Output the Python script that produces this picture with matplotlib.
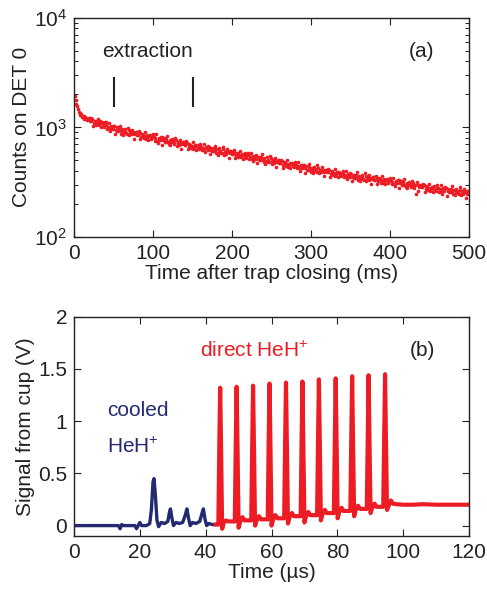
import matplotlib
matplotlib.use('Agg')
from matplotlib import pyplot as plt
from matplotlib.ticker import LogLocator, NullFormatter

plt.rcParams['font.family'] = ['Liberation Sans', 'DejaVu Sans']
plt.rcParams['mathtext.fontset'] = 'custom'
plt.rcParams['mathtext.rm'] = 'Liberation Sans'
plt.rcParams['mathtext.it'] = 'Liberation Sans:italic'

RED = '#ed1c24'
BLUE = '#232a72'
INK = '#222222'

# panel (a): counts vs time after trap closing (ms)
time_odd = list(range(1, 500, 2))
counts_odd = [
    1950, 1640, 1460, 1310, 1330, 1260, 1200, 1230, 1180, 1210,
    1134, 1186, 1096, 1142, 1110, 1050, 1133, 1106, 1068, 1118,
    1046, 1015, 965, 1025, 965, 1024, 955, 926, 983, 921,
    958, 905, 925, 873, 947, 895, 861, 899, 866, 903,
    853, 889, 824, 859, 836, 789, 849, 826, 796, 830,
    814, 793, 756, 806, 762, 812, 760, 740, 788, 738,
    770, 728, 745, 704, 764, 723, 696, 727, 701, 731,
    691, 721, 667, 697, 678, 640, 690, 673, 649, 678,
    666, 649, 619, 660, 624, 665, 623, 606, 646, 605,
    631, 598, 612, 579, 629, 596, 574, 601, 579, 605,
    572, 598, 554, 579, 564, 533, 574, 560, 539, 563,
    554, 540, 516, 549, 519, 553, 518, 504, 538, 503,
    525, 497, 508, 480, 522, 493, 475, 497, 479, 500,
    472, 493, 457, 477, 465, 438, 472, 460, 443, 462,
    455, 443, 422, 450, 425, 453, 424, 412, 439, 411,
    430, 406, 416, 393, 427, 404, 390, 407, 393, 410,
    388, 406, 375, 393, 383, 362, 390, 380, 367, 383,
    377, 368, 350, 374, 354, 377, 354, 345, 368, 345,
    362, 343, 351, 332, 362, 343, 332, 347, 336, 350,
    333, 347, 323, 338, 330, 312, 337, 328, 318, 333,
    327, 319, 305, 325, 308, 328, 308, 300, 319, 299,
    313, 296, 303, 286, 312, 295, 245, 298, 287, 301,
    284, 296, 275, 288, 281, 265, 286, 280, 270, 282,
    278, 272, 260, 278, 263, 280, 263, 257, 275, 257,
    269, 255, 262, 247, 269, 255, 246, 258, 249, 261,
]
time_even = list(range(2, 501, 2))
counts_even = [
    1780, 1560, 1380, 1360, 1240, 1260, 1250, 1170, 1200, 1140,
    1220, 1028, 1154, 1055, 1194, 1063, 1000, 1118, 1013, 1123,
    969, 1101, 920, 1000, 1039, 873, 998, 922, 1036, 879,
    853, 975, 886, 997, 845, 910, 956, 790, 906, 856,
    919, 775, 871, 797, 908, 810, 764, 856, 777, 864,
    755, 861, 722, 788, 822, 693, 796, 737, 831, 705,
    685, 784, 713, 803, 682, 734, 772, 639, 733, 693,
    745, 629, 707, 647, 737, 659, 621, 697, 634, 707,
    618, 705, 592, 645, 673, 568, 652, 604, 681, 578,
    563, 644, 587, 661, 562, 606, 638, 528, 607, 574,
    616, 521, 586, 538, 613, 548, 516, 580, 526, 589,
    514, 586, 492, 536, 560, 473, 542, 502, 567, 480,
    467, 535, 486, 548, 465, 502, 527, 437, 501, 474,
    509, 430, 483, 443, 505, 451, 424, 476, 432, 483,
    422, 481, 403, 439, 458, 386, 443, 410, 462, 393,
    383, 438, 398, 449, 381, 411, 432, 358, 411, 389,
    418, 353, 398, 365, 416, 372, 351, 394, 358, 401,
    351, 399, 335, 366, 382, 322, 371, 344, 388, 330,
    322, 370, 337, 380, 323, 349, 368, 305, 352, 333,
    358, 303, 342, 314, 359, 320, 303, 340, 310, 348,
    304, 347, 291, 318, 332, 280, 321, 298, 336, 285,
    278, 319, 290, 327, 278, 300, 315, 262, 301, 285,
    306, 258, 291, 267, 305, 273, 258, 290, 264, 295,
    258, 295, 248, 272, 283, 239, 276, 256, 289, 246,
    240, 275, 250, 283, 241, 260, 274, 228, 261, 248,
]
extraction_ms = [50, 150]
extraction_lo = 1540
extraction_hi = 2890

# panel (b): signal from cup (V) vs time (us)
cooled_t = [0, 5, 10, 13.5, 14, 14.5, 15, 18.5, 19, 19.5, 20, 20.5, 22, 23,
            23.5, 24, 24.3, 24.7, 25.2, 25.7, 26.5, 27.5, 28.5, 29, 29.3, 29.7,
            30.2, 31, 32, 33, 33.8, 34.3, 34.8, 35.3, 36, 37, 38.2, 38.9, 39.3,
            39.8, 40.3, 41, 42, 43]
cooled_v = [0.0, 0.0, 0.0, 0.0, -0.03, 0.01, 0.0, 0.0, -0.03, 0.0, 0.03, 0.0,
            0.0, 0.02, 0.15, 0.42, 0.45, 0.3, 0.05, -0.01, 0.03, 0.02, 0.04,
            0.13, 0.16, 0.08, 0.0, 0.03, 0.02, 0.03, 0.1, 0.16, 0.07, 0.0, 0.03,
            0.02, 0.04, 0.12, 0.16, 0.06, 0.0, 0.02, 0.01, 0.01]

direct_t = [43.0, 43.5,
            43.85, 44.15, 44.4, 44.65, 45.0, 45.5, 46.2, 46.8, 47.9,
            48.85, 49.15, 49.4, 49.65, 50.0, 50.5, 51.2, 51.8, 52.9,
            53.85, 54.15, 54.4, 54.65, 55.0, 55.5, 56.2, 56.8, 57.9,
            58.85, 59.15, 59.4, 59.65, 60.0, 60.5, 61.2, 61.8, 62.9,
            63.85, 64.15, 64.4, 64.65, 65.0, 65.5, 66.2, 66.8, 67.9,
            68.85, 69.15, 69.4, 69.65, 70.0, 70.5, 71.2, 71.8, 72.9,
            73.85, 74.15, 74.4, 74.65, 75.0, 75.5, 76.2, 76.8, 77.9,
            78.95, 79.25, 79.5, 79.75, 80.1, 80.6, 81.3, 81.9, 83.0,
            83.95, 84.25, 84.5, 84.75, 85.1, 85.6, 86.3, 86.9, 88.0,
            88.95, 89.25, 89.5, 89.75, 90.1, 90.6, 91.3, 91.9, 93.0,
            93.95, 94.25, 94.5, 94.75, 95.1, 95.6, 96.3, 96.9, 98.0,
            100, 103, 106, 110, 114, 117, 120]
direct_v = [0.01, 0.01,
            0.01, 0.79, 1.32, 0.79, -0.03, 0.03, 0.05, 0.04, 0.04,
            0.04, 0.80, 1.33, 0.80, -0.02, 0.04, 0.08, 0.05, 0.05,
            0.05, 0.80, 1.34, 0.80, 0.0, 0.05, 0.09, 0.06, 0.06,
            0.06, 0.82, 1.36, 0.82, 0.0, 0.06, 0.10, 0.07, 0.07,
            0.07, 0.82, 1.37, 0.82, 0.02, 0.08, 0.12, 0.09, 0.09,
            0.09, 0.83, 1.38, 0.83, 0.03, 0.09, 0.13, 0.10, 0.10,
            0.10, 0.84, 1.40, 0.84, 0.05, 0.11, 0.15, 0.12, 0.12,
            0.12, 0.85, 1.41, 0.85, 0.07, 0.13, 0.17, 0.14, 0.14,
            0.14, 0.86, 1.43, 0.86, 0.09, 0.15, 0.19, 0.16, 0.16,
            0.16, 0.86, 1.44, 0.86, 0.12, 0.17, 0.21, 0.18, 0.18,
            0.18, 0.87, 1.45, 0.87, 0.15, 0.19, 0.24, 0.21, 0.205,
            0.2, 0.2, 0.205, 0.2, 0.2, 0.2, 0.2]

FS = 15

fig = plt.figure(figsize=(4.87, 5.91), dpi=100)
ax1 = fig.add_axes([0.152, 0.599, 0.811, 0.371])
ax2 = fig.add_axes([0.152, 0.093, 0.811, 0.371])

for ax in (ax1, ax2):
    ax.tick_params(direction='in', top=True, right=True, labelsize=FS,
                   length=5, width=0.8, colors=INK, pad=5)
    ax.tick_params(which='minor', direction='in', top=True, right=True,
                   length=3, width=0.6)
    for s in ax.spines.values():
        s.set_linewidth(1.0)
        s.set_color(INK)

# (a)
ax1.plot(time_odd, counts_odd, 'o', color=RED, ms=2.6, mew=0)
ax1.plot(time_even, counts_even, 'o', color=RED, ms=2.6, mew=0)
ax1.vlines(extraction_ms, extraction_lo, extraction_hi, color=INK, lw=1.5)
ax1.text(93, 4900, 'extraction', ha='center', va='center', fontsize=FS, color=INK)
ax1.text(440, 4900, '(a)', ha='center', va='center', fontsize=FS, color=INK)
ax1.set_yscale('log')
ax1.set_xlim(0, 500)
ax1.set_ylim(100, 10000)
ax1.set_xticks([0, 100, 200, 300, 400, 500])
ax1.yaxis.set_minor_locator(LogLocator(base=10, subs=range(2, 10)))
ax1.yaxis.set_minor_formatter(NullFormatter())
ax1.set_xlabel('Time after trap closing (ms)', fontsize=FS, labelpad=1, color=INK)
ax1.set_ylabel('Counts on DET 0', fontsize=FS, labelpad=2, color=INK)

# (b)
ax2.plot(cooled_t, cooled_v, color=BLUE, lw=2.4, solid_joinstyle='round')
ax2.plot(direct_t, direct_v, color=RED, lw=3.0, solid_joinstyle='round')
ax2.text(54.7, 1.67, 'direct HeH$^{+}$', ha='center', va='center', fontsize=FS, color=RED)
ax2.text(10, 1.10, 'cooled', ha='left', va='center', fontsize=FS, color=BLUE)
ax2.text(10, 0.75, 'HeH$^{+}$', ha='left', va='center', fontsize=FS, color=BLUE)
ax2.text(106, 1.68, '(b)', ha='center', va='center', fontsize=FS, color=INK)
ax2.set_xlim(0, 120)
ax2.set_ylim(-0.1, 2)
ax2.set_xticks([0, 20, 40, 60, 80, 100, 120])
ax2.set_yticks([0, 0.5, 1, 1.5, 2])
ax2.set_yticklabels(['0', '0.5', '1', '1.5', '2'])
ax2.set_xlabel('Time (\u00b5s)', fontsize=FS, labelpad=1, color=INK)
ax2.set_ylabel('Signal from cup (V)', fontsize=FS, labelpad=2, color=INK)

fig.savefig('out.png', dpi=100)
